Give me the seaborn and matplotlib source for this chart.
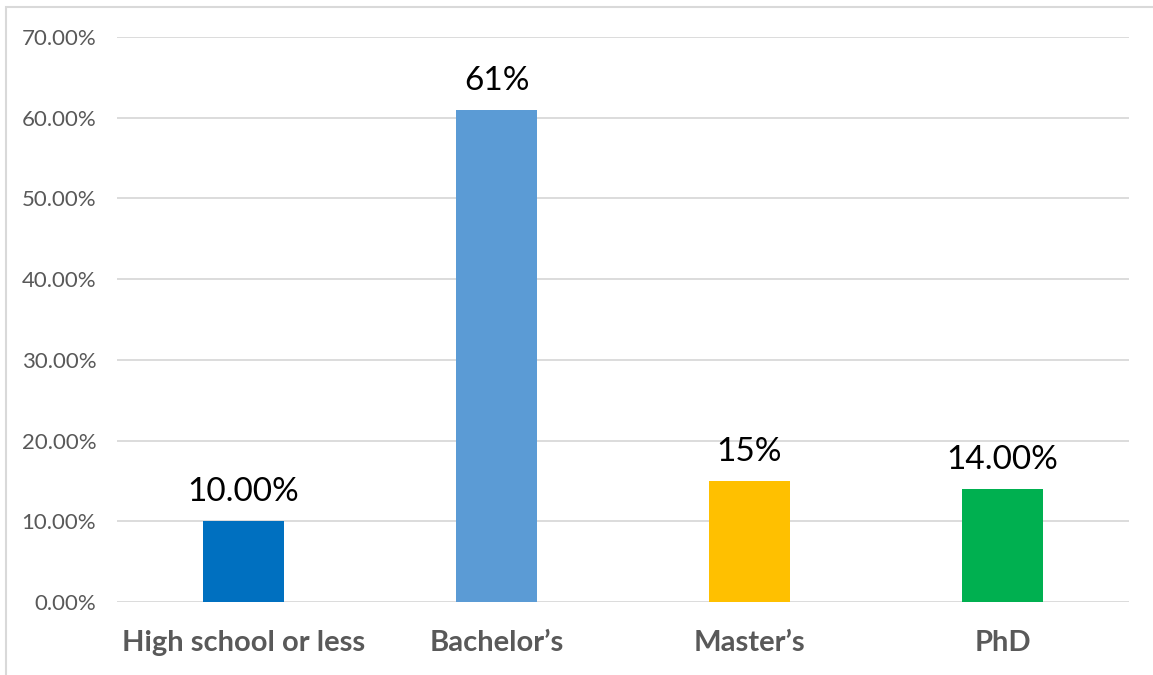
import matplotlib
matplotlib.use("Agg")
import matplotlib.pyplot as plt
from matplotlib.patches import Rectangle
from matplotlib.ticker import PercentFormatter
import seaborn as sns
import pandas as pd

# Education level shares
categories = ["High school or less", "Bachelor\u2019s", "Master\u2019s", "PhD"]
shares = [0.10, 0.61, 0.15, 0.14]
label_decimals = [2, 0, 0, 2]
bar_colors = ["#0070C0", "#5B9BD5", "#FFC000", "#00B050"]
y_ticks = [0.0, 0.1, 0.2, 0.3, 0.4, 0.5, 0.6, 0.7]

sns.set_theme(style="white")
plt.rcParams["font.family"] = ["Lato", "DejaVu Sans"]

df = pd.DataFrame({"level": categories, "share": shares})

fig = plt.figure(figsize=(11.53, 6.75), dpi=100)
ax = fig.add_axes([117 / 1153, 1 - 602 / 675, (1129 - 117) / 1153, (602 - 37) / 675])

sns.barplot(data=df, x="level", y="share", hue="level", palette=bar_colors,
            order=categories, hue_order=categories, width=0.318,
            legend=False, ax=ax, saturation=1, linewidth=0, zorder=3)

ax.set_xlim(-0.5, 3.5)
ax.set_ylim(0, 0.7)
ax.set_yticks(y_ticks)
ax.yaxis.set_major_formatter(PercentFormatter(xmax=1, decimals=2))
ax.grid(axis="y", color="#D9D9D9", linewidth=1.3, zorder=0)
ax.set_axisbelow(True)
for side in ["top", "right", "left", "bottom"]:
    ax.spines[side].set_visible(False)
ax.set_xlabel("")
ax.set_ylabel("")

ax.tick_params(axis="y", length=0, pad=15, labelsize=16, labelcolor="#595959")
ax.tick_params(axis="x", length=0, pad=20, labelsize=21, labelcolor="#595959")
for lbl in ax.get_xticklabels():
    lbl.set_fontweight("bold")

# value labels above each bar
for i, (v, d) in enumerate(zip(shares, label_decimals)):
    ax.annotate(f"{v * 100:.{d}f}%", xy=(i, v), xytext=(0, 10),
                textcoords="offset points", ha="center", va="bottom",
                fontsize=24, color="black")

# light chart-area frame
fig.patches.append(Rectangle((5.5 / 1153, -0.1), 1.2, 1 - 7.5 / 675 + 0.1,
                             transform=fig.transFigure, fill=False,
                             edgecolor="#D9D9D9", linewidth=1.5))

fig.savefig("out.png", dpi=100)
